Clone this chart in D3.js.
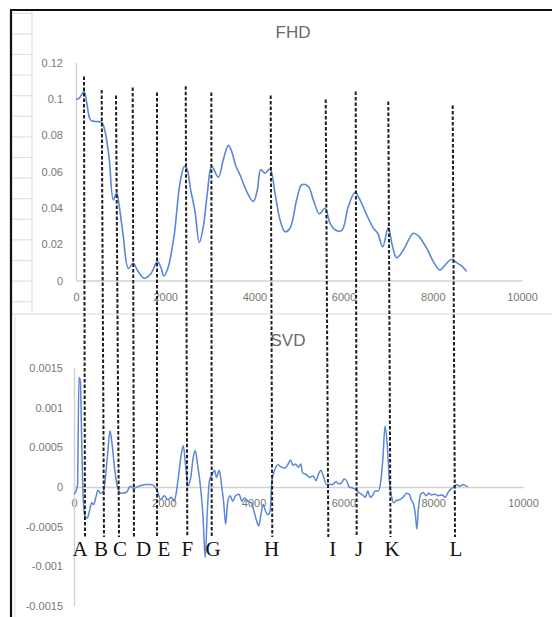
<!DOCTYPE html>
<html>
<head>
<meta charset="utf-8">
<script src="https://cdn.jsdelivr.net/npm/d3@7"></script>
<style>
  html, body { margin: 0; padding: 0; background: #fff; }
  svg { display: block; }
  .tick text { font-family: "Liberation Sans", Arial, sans-serif; font-size: 11px; fill: #7d766e; }
  .domain { stroke: #d2d2d2; stroke-width: 1.5; }
</style>
</head>
<body>
<svg id="chart" width="552" height="617"></svg>
<script>
// ---- FHD series (sample index, value) ----
const fhdX = [0, 60, 179, 240, 330, 450, 576, 620, 673, 747, 837, 912, 971, 1061, 1173, 1285, 1375, 1525, 1674,
  1823, 1898, 1973, 2070, 2197, 2332, 2429, 2481, 2571, 2668, 2765, 2855, 2945, 3042, 3191, 3303, 3415, 3490,
  3587, 3677, 3827, 3976, 4066, 4141, 4238, 4350, 4462, 4574, 4686, 4798, 4948, 5060, 5209, 5321, 5456, 5583,
  5695, 5807, 5957, 6106, 6256, 6368, 6518, 6667, 6764, 6877, 7002, 7090, 7190, 7339, 7564, 7675, 7863, 8012,
  8161, 8311, 8423, 8535, 8647, 8759];
const fhdY = [0.1, 0.1, 0.104, 0.098, 0.0882, 0.0875, 0.0872, 0.085, 0.0793, 0.0665, 0.0444, 0.0481, 0.0407,
  0.0242, 0.0067, 0.0095, 0.0058, 0.0012, 0.0036, 0.0104, 0.0076, 0.0025, 0.0076, 0.0242, 0.0536, 0.0628,
  0.0619, 0.0499, 0.038, 0.0209, 0.0297, 0.0481, 0.0628, 0.0569, 0.0665, 0.0744, 0.0711, 0.0628, 0.0582,
  0.049, 0.0435, 0.0499, 0.061, 0.0591, 0.0614, 0.0481, 0.0334, 0.0269, 0.0288, 0.0444, 0.0527, 0.0518,
  0.0444, 0.0367, 0.0398, 0.0316, 0.0279, 0.0275, 0.0407, 0.0484, 0.0444, 0.0361, 0.0288, 0.026, 0.0186,
  0.0293, 0.0195, 0.0125, 0.0168, 0.026, 0.0246, 0.0178, 0.0104, 0.0058, 0.0095, 0.0117, 0.0098, 0.008, 0.0049];

// ---- SVD series (sample index, value) ----
const svdX = [0, 47, 79, 110, 141, 173, 204, 244, 298, 346, 393, 440, 487, 534, 597, 660, 707, 754, 801, 848,
  911, 974, 1045, 1163, 1257, 1320, 1437, 1595, 1713, 1791, 1854, 1932, 2011, 2090, 2168, 2231, 2278, 2341,
  2388, 2435, 2482, 2537, 2600, 2655, 2702, 2750, 2812, 2875, 2922, 2970, 3017, 3079, 3127, 3174, 3237, 3284,
  3331, 3378, 3425, 3480, 3535, 3598, 3676, 3739, 3794, 3873, 3951, 4006, 4069, 4116, 4163, 4211, 4265, 4320,
  4368, 4407, 4462, 4540, 4619, 4697, 4760, 4823, 4878, 4933, 4996, 5051, 5090, 5169, 5247, 5326, 5389, 5444,
  5499, 5562, 5625, 5719, 5782, 5837, 5892, 5955, 6017, 6072, 6127, 6190, 6268, 6347, 6426, 6489, 6544, 6599,
  6646, 6708, 6779, 6834, 6881, 6928, 6976, 7023, 7070, 7117, 7180, 7251, 7329, 7408, 7463, 7510, 7565, 7604,
  7636, 7667, 7722, 7777, 7840, 7903, 7965, 8036, 8115, 8193, 8272, 8327, 8390, 8453, 8516, 8587, 8665, 8767];
const svdY = [-0.00009, -0.00005, 0.00003, 0.00138, 0.00134, 0.00054, -0.00013, -0.00037, -0.00039, -0.0003,
  -0.0002, -0.00022, -0.00013, -0.00004, -0.00008, -0.00005, 0.00016, 0.00045, 0.00071, 0.00054, 0.0002,
  -0.00001, -0.00008, -0.00007, 0.00001, -0.00002, 0.00001, 0.00003, 0.00003, 0.00001, -0.00005, -0.00016,
  -0.00011, -0.00016, -0.00013, -0.00018, -0.00007, 0.0002, 0.00041, 0.00052, 0.00029, 0.00001, 0.00012,
  0.00037, 0.00046, 0.00029, 0.00003, -0.00039, -0.00089, -0.0003, 0.00008, 0.00016, 0.00021, 0.00012,
  0.00021, 0.00003, -0.00018, -0.00047, -0.00018, -0.00011, -0.00018, -0.00011, -0.00009, -0.00018, -0.00014,
  -0.00018, -0.0002, -0.0003, -0.00043, -0.00049, -0.00035, -0.00022, -0.0003, -0.00035, -0.0003, 0.00008,
  0.0002, 0.00028, 0.00025, 0.00024, 0.00028, 0.00034, 0.00027, 0.00029, 0.00025, 0.00029, 0.00018, 0.00016,
  0.00012, 0.00014, 0.00008, 0.00016, 0.00021, 0.00012, 0.00003, 0.00003, 0.00004, 0.00007, 0.00004, 0.00005,
  0.0001, 0.00008, 0, -0.00001, -0.00003, -0.00007, -0.0001, -0.00013, -0.00005, -0.00013, -0.00011, -0.00005,
  -0.00005, 0.00008, 0.00037, 0.00077, 0.00054, 0.00008, -0.00011, -0.0002, -0.00017, -0.00016, -0.00013,
  -0.00008, -0.00009, -0.00016, -0.00022, -0.00035, -0.00053, -0.0003, -0.00009, -0.00007, -0.00011, -0.00008,
  -0.0001, -0.00009, -0.00011, -0.0001, -0.00013, -0.00007, -0.00003, 0, 0.00003, 0.00001, 0.00003, 0];

// ---- axis ticks ----
const xTicks = [0, 2000, 4000, 6000, 8000, 10000];
const fhdYTicks = [0, 0.02, 0.04, 0.06, 0.08, 0.1, 0.12];
const svdYTicks = [-0.0015, -0.001, -0.0005, 0, 0.0005, 0.001, 0.0015];

// ---- event markers: letter, position on FHD axis, position on SVD axis, upper end (FHD units), letter position ----
const markerNames = ["A", "B", "C", "D", "E", "F", "G", "H", "I", "J", "K", "L"];
const markerFhdX = [179, 576, 897, 1271, 1816, 2460, 3034, 4365, 5599, 6271, 7002, 8446];
const markerSvdX = [245, 668, 1002, 1336, 1849, 2523, 3067, 4416, 5664, 6296, 7049, 8486];
const markerTop = [0.1123, 0.1049, 0.1018, 0.1062, 0.1035, 0.1069, 0.1035, 0.1018, 0.0996, 0.104, 0.0985, 0.0963];
const markerLabelX = [134, 601, 1024, 1548, 2004, 2523, 3096, 4403, 5762, 6347, 7082, 8508];

const svg = d3.select("#chart");
const lineColor = "#5a87d6";

// ---- worksheet background: frame and cell grid on the left ----
const sheet = svg.append("g");
sheet.selectAll("line.cell").data(d3.range(15)).join("line")
  .attr("x1", 12).attr("x2", 32)
  .attr("y1", i => 13.3 + i * 20.6).attr("y2", i => 13.3 + i * 20.6)
  .attr("stroke", "#e0e0e0").attr("stroke-width", 1.2);
sheet.append("line").attr("x1", 32).attr("x2", 32).attr("y1", 11).attr("y2", 314)
  .attr("stroke", "#e0e0e0").attr("stroke-width", 1.2);
sheet.append("line").attr("x1", 12).attr("x2", 552).attr("y1", 314).attr("y2", 314)
  .attr("stroke", "#dadada").attr("stroke-width", 1.2);
sheet.append("line").attr("x1", 15).attr("x2", 15).attr("y1", 314).attr("y2", 617)
  .attr("stroke", "#e6e6e6").attr("stroke-width", 1);
sheet.append("line").attr("x1", 10).attr("x2", 552).attr("y1", 10).attr("y2", 10)
  .attr("stroke", "#111").attr("stroke-width", 2.2);
sheet.append("line").attr("x1", 11).attr("x2", 11).attr("y1", 9).attr("y2", 617)
  .attr("stroke", "#111").attr("stroke-width", 2.2);

// ---- scales ----
const xF = d3.scaleLinear([0, 10000], [76, 522]);
const yF = d3.scaleLinear([0, 0.12], [280.5, 62.5]);
const xS = d3.scaleLinear([0, 10000], [74, 523]);
const yS = d3.scaleLinear([-0.0015, 0.0015], [606, 368]);

function styleAxis(g) {
  g.selectAll(".tick line").remove();
}

// ---- FHD panel ----
svg.append("text").attr("x", 293).attr("y", 38).attr("text-anchor", "middle")
  .attr("font-family", "Liberation Sans, Arial, sans-serif").attr("font-size", 17)
  .attr("fill", "#6a6a6a").text("FHD");

svg.append("g").attr("transform", `translate(0,${yF(0)})`)
  .call(d3.axisBottom(xF).tickValues(xTicks).tickSize(0).tickSizeOuter(0).tickPadding(13).tickFormat(d => String(d)))
  .call(styleAxis);
svg.append("g").attr("transform", `translate(${xF(0)},0)`)
  .call(d3.axisLeft(yF).tickValues(fhdYTicks).tickSize(0).tickSizeOuter(0).tickPadding(13).tickFormat(d => String(d)))
  .call(styleAxis);

svg.append("path")
  .datum(d3.zip(fhdX, fhdY))
  .attr("fill", "none").attr("stroke", lineColor).attr("stroke-width", 1.6)
  .attr("d", d3.line().x(d => xF(d[0])).y(d => yF(d[1])).curve(d3.curveCatmullRom.alpha(0.5)));

// ---- SVD panel ----
svg.append("text").attr("x", 288).attr("y", 346).attr("text-anchor", "middle")
  .attr("font-family", "Liberation Sans, Arial, sans-serif").attr("font-size", 17)
  .attr("fill", "#6a6a6a").text("SVD");

svg.append("g").attr("transform", `translate(0,${yS(0)})`)
  .call(d3.axisBottom(xS).tickValues(xTicks).tickSize(0).tickSizeOuter(0).tickPadding(12).tickFormat(d => String(d)))
  .call(styleAxis);
svg.append("g").attr("transform", `translate(${xS(0)},0)`)
  .call(d3.axisLeft(yS).tickValues(svdYTicks).tickSize(0).tickSizeOuter(0).tickPadding(11).tickFormat(d => String(d)))
  .call(styleAxis);

svg.append("path")
  .datum(d3.zip(svdX, svdY))
  .attr("fill", "none").attr("stroke", lineColor).attr("stroke-width", 1.5)
  .attr("d", d3.line().x(d => xS(d[0])).y(d => yS(d[1])).curve(d3.curveMonotoneX));

// ---- event markers spanning both panels ----
const markers = markerNames.map((name, i) => ({
  name, fx: markerFhdX[i], sx: markerSvdX[i], top: markerTop[i], lx: markerLabelX[i]
}));
const markerBottom = -0.00063;

svg.append("g").selectAll("line").data(markers).join("line")
  .attr("x1", d => xF(d.fx)).attr("y1", d => yF(d.top))
  .attr("x2", d => xS(d.sx)).attr("y2", yS(markerBottom))
  .attr("stroke", "#1e1e1e").attr("stroke-width", 2).attr("stroke-dasharray", "3.5,2");

svg.append("g").selectAll("text").data(markers).join("text")
  .attr("x", d => xS(d.lx)).attr("y", 556)
  .attr("text-anchor", "middle")
  .attr("font-family", "Liberation Serif, 'Times New Roman', serif").attr("font-size", 21)
  .attr("fill", "#111").text(d => d.name);
</script>
</body>
</html>
